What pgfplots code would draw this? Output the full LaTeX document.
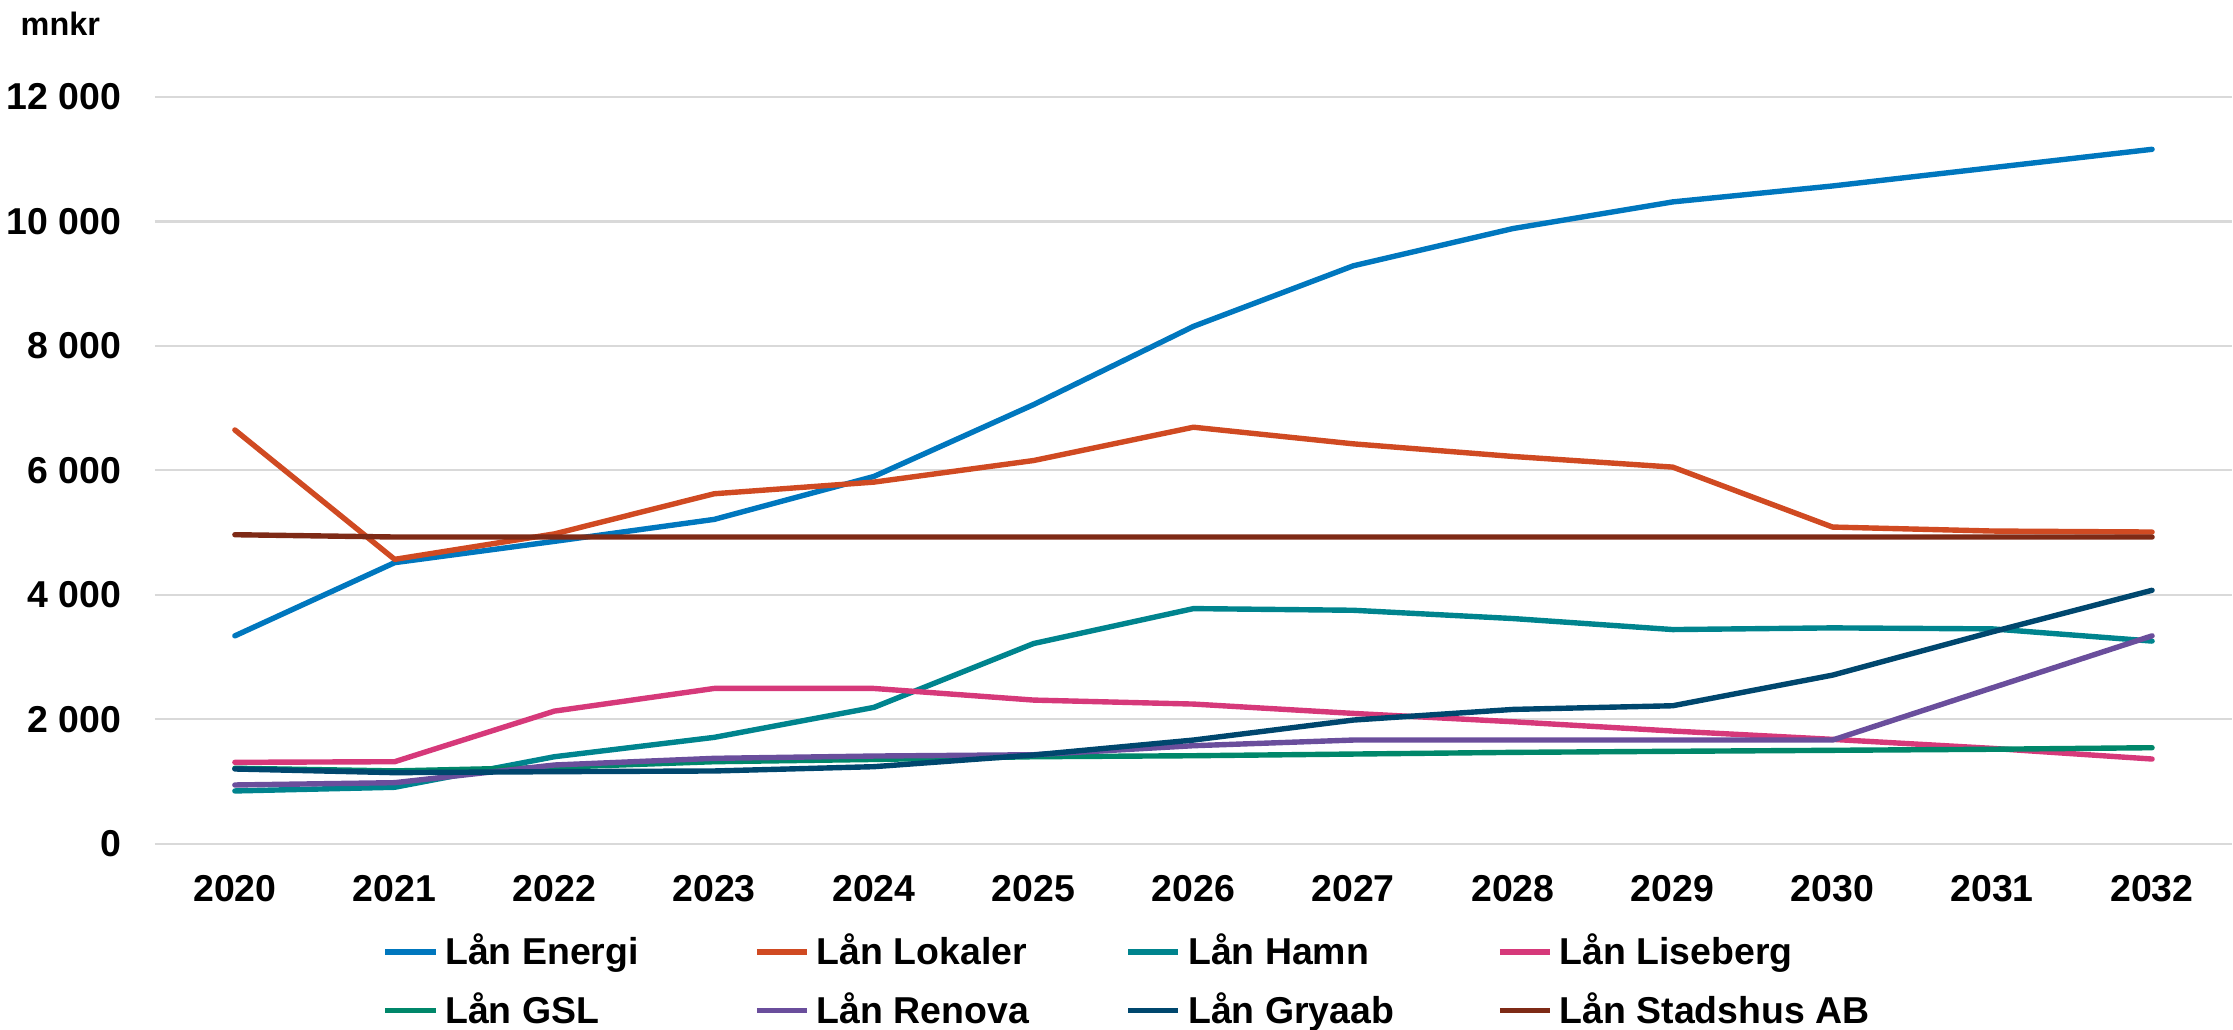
\documentclass[border=0pt]{standalone}
\usepackage{pgfplots}
\pgfplotsset{compat=1.18}
\usepackage{fontspec}
\setmainfont{Liberation Sans}
\definecolor{cEnergi}{RGB}{0,119,190}
\definecolor{cLokaler}{RGB}{208,74,34}
\definecolor{cHamn}{RGB}{0,132,142}
\definecolor{cLiseberg}{RGB}{214,57,122}
\definecolor{cGSL}{RGB}{0,135,106}
\definecolor{cRenova}{RGB}{106,78,156}
\definecolor{cGryaab}{RGB}{0,71,110}
\definecolor{cStadshus}{RGB}{126,42,22}
\definecolor{grid}{RGB}{217,217,217}
\newcommand{\lgbox}[1]{\makebox[85.8pt][l]{#1}}
\begin{document}
\begin{tikzpicture}
\begin{axis}[
  name=ax,
  scale only axis,
  width=577pt, height=207.5pt,
  xmin=2019.5, xmax=2032.5,
  ymin=0, ymax=12000,
  scaled y ticks=false,
  scaled x ticks=false,
  axis line style={draw=none},
  major tick length=0pt,
  xtick={2020,...,2032},
  xticklabels={2020,2021,2022,2023,2024,2025,2026,2027,2028,2029,2030,2031,2032},
  ytick={0,2000,4000,6000,8000,10000,12000},
  yticklabels={0,2 000,4 000,6 000,8 000,10 000,12 000},
  ymajorgrids,
  major grid style={draw=grid, line width=0.6pt},
  tick label style={font=\fontsize{10.4}{12}\selectfont\bfseries},
  xticklabel style={inner sep=0pt, anchor=north, yshift=-8.6pt},
  yticklabel style={inner sep=0pt, anchor=east, xshift=-9.2pt},
  clip=false,
  every axis plot/.append style={line width=1.5pt, line join=round, line cap=round},
  legend columns=4,
  legend cell align=left,
  legend image code/.code={\draw[#1, line width=1.6pt, line cap=butt] (0pt,0pt) -- (13.9pt,0pt);},
  legend style={
    at={(0.4673,0)}, anchor=north, yshift=-25pt,
    draw=none, fill=none, inner sep=0pt, outer sep=0pt,
    font=\fontsize{10.4}{12}\selectfont\bfseries,
    row sep=6.2pt,
    nodes={inner sep=0pt},
    /tikz/every odd column/.style={column sep=1.9pt},
    /tikz/every even column/.style={column sep=0pt},
  },
]
\addplot[color=cEnergi] coordinates {(2020,3342)(2021,4518)(2022,4860)(2023,5213)(2024,5903)(2025,7058)(2026,8314)(2027,9287)(2028,9886)(2029,10314)(2030,10570)(2031,10864)(2032,11159)};
\addlegendentry{\lgbox{Lån Energi}}
\addplot[color=cLokaler] coordinates {(2020,6650)(2021,4571)(2022,4980)(2023,5625)(2024,5812)(2025,6159)(2026,6694)(2027,6427)(2028,6224)(2029,6053)(2030,5090)(2031,5026)(2032,5010)};
\addlegendentry{\lgbox{Lån Lokaler}}
\addplot[color=cHamn] coordinates {(2020,850)(2021,909)(2022,1400)(2023,1711)(2024,2193)(2025,3219)(2026,3780)(2027,3753)(2028,3620)(2029,3443)(2030,3470)(2031,3454)(2032,3258)};
\addlegendentry{\lgbox{Lån Hamn}}
\addplot[color=cLiseberg] coordinates {(2020,1310)(2021,1320)(2022,2133)(2023,2497)(2024,2497)(2025,2310)(2026,2246)(2027,2096)(2028,1962)(2029,1813)(2030,1679)(2031,1534)(2032,1363)};
\addlegendentry{\lgbox{Lån Liseberg}}
\addplot[color=cGSL] coordinates {(2020,1215)(2021,1172)(2022,1230)(2023,1320)(2024,1356)(2025,1400)(2026,1416)(2027,1443)(2028,1470)(2029,1487)(2030,1503)(2031,1520)(2032,1545)};
\addlegendentry{\lgbox{Lån GSL}}
\addplot[color=cRenova] coordinates {(2020,946)(2021,983)(2022,1267)(2023,1374)(2024,1411)(2025,1432)(2026,1577)(2027,1668)(2028,1668)(2029,1668)(2030,1668)(2031,2507)(2032,3342)};
\addlegendentry{\lgbox{Lån Renova}}
\addplot[color=cGryaab] coordinates {(2020,1203)(2021,1144)(2022,1160)(2023,1171)(2024,1240)(2025,1428)(2026,1668)(2027,1989)(2028,2160)(2029,2219)(2030,2711)(2031,3406)(2032,4074)};
\addlegendentry{\lgbox{Lån Gryaab}}
\addplot[color=cStadshus] coordinates {(2020,4967)(2021,4930)(2022,4930)(2023,4930)(2024,4930)(2025,4930)(2026,4930)(2027,4930)(2028,4930)(2029,4930)(2030,4930)(2031,4930)(2032,4930)};
\addlegendentry{\lgbox{Lån Stadshus AB}}
\end{axis}
\node[anchor=base west, inner sep=0pt, font=\fontsize{9}{11}\selectfont\bfseries] at ([xshift=-37.5pt, yshift=17.2pt]ax.north west) {mnkr};
\path ([xshift=-43.06pt, yshift=26.94pt]ax.north west) rectangle ++(620.3pt,-286.1pt);
\end{tikzpicture}
\end{document}
